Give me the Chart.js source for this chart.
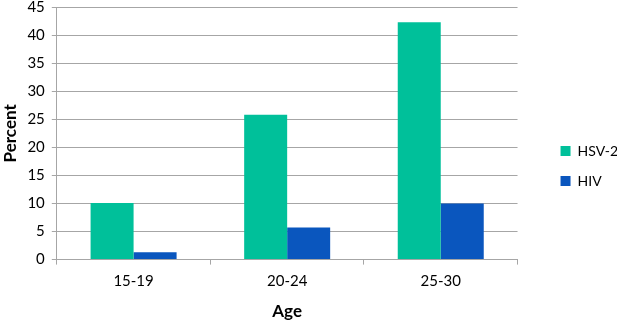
<!DOCTYPE html>
<html lang="en">
<head>
    <meta charset="UTF-8">
    <title>HSV-2 and HIV by Age</title>
    <script src="https://cdn.jsdelivr.net/npm/chart.js"></script>
    <style>
        html, body { margin: 0; padding: 0; background: #ffffff; }
        #wrap { width: 617px; height: 322px; position: relative; }
    </style>
</head>
<body>
    <div id="wrap">
        <canvas id="barChart" width="617" height="322"></canvas>
    </div>

    <script>
        // chart data
        var ageGroups = ["15-19", "20-24", "25-30"];
        var hsv2 = [10.1, 25.8, 42.3];
        var hiv = [1.3, 5.7, 10.0];
        var yTicks = [0, 5, 10, 15, 20, 25, 30, 35, 40, 45];

        var gridGray = "#a6a6a6";
        var fontName = "Lato, sans-serif";

        // nudge the legend a bit to the right / down like the original
        var legendShift = {
            id: 'legendShift',
            afterLayout: function (chart) {
                var lg = chart.legend;
                if (!lg) return;
                lg.left += 27; lg.right += 27;
                lg.top += 5; lg.bottom += 5;
            }
        };

        var ctx = document.getElementById("barChart").getContext("2d");
        var myBarChart = new Chart(ctx, {
            type: 'bar',
            data: {
                labels: ageGroups,
                datasets: [{
                    label: "HSV-2",
                    data: hsv2,
                    backgroundColor: "#00c09a",
                    categoryPercentage: 0.56,
                    barPercentage: 1.0
                }, {
                    label: "HIV",
                    data: hiv,
                    backgroundColor: "#0a56be",
                    categoryPercentage: 0.56,
                    barPercentage: 1.0
                }]
            },
            plugins: [legendShift],
            options: {
                responsive: false,
                animation: false,
                layout: { padding: { top: 0, right: 16, bottom: 0, left: 0 } },
                plugins: {
                    tooltip: { enabled: false },
                    legend: {
                        position: 'right',
                        labels: {
                            boxWidth: 10,
                            boxHeight: 10,
                            padding: 16,
                            color: "#000",
                            font: { family: fontName, size: 14 }
                        }
                    }
                },
                scales: {
                    x: {
                        grid: {
                            drawOnChartArea: false,
                            drawTicks: true,
                            tickLength: 5,
                            color: gridGray
                        },
                        border: { color: gridGray, width: 1 },
                        ticks: { color: "#000", font: { family: fontName, size: 15 }, padding: 8 },
                        title: {
                            display: true,
                            text: "Age",
                            color: "#000",
                            font: { family: fontName, size: 17, weight: 'bold' },
                            padding: { top: 3, bottom: 0 }
                        }
                    },
                    y: {
                        min: 0,
                        max: 45,
                        afterBuildTicks: function (axis) {
                            axis.ticks = yTicks.map(function (v) { return { value: v }; });
                        },
                        grid: {
                            color: gridGray,
                            tickLength: 5
                        },
                        border: { color: gridGray, width: 1 },
                        // tiny lineHeight so the top label doesn't push the plot down
                        ticks: { color: "#000", font: { family: fontName, size: 15, lineHeight: 0.01 }, padding: 7 },
                        title: {
                            display: true,
                            text: "Percent",
                            color: "#000",
                            font: { family: fontName, size: 17, weight: 'bold' },
                            padding: { top: 0, bottom: 0 }
                        }
                    }
                }
            }
        });
    </script>
</body>
</html>
